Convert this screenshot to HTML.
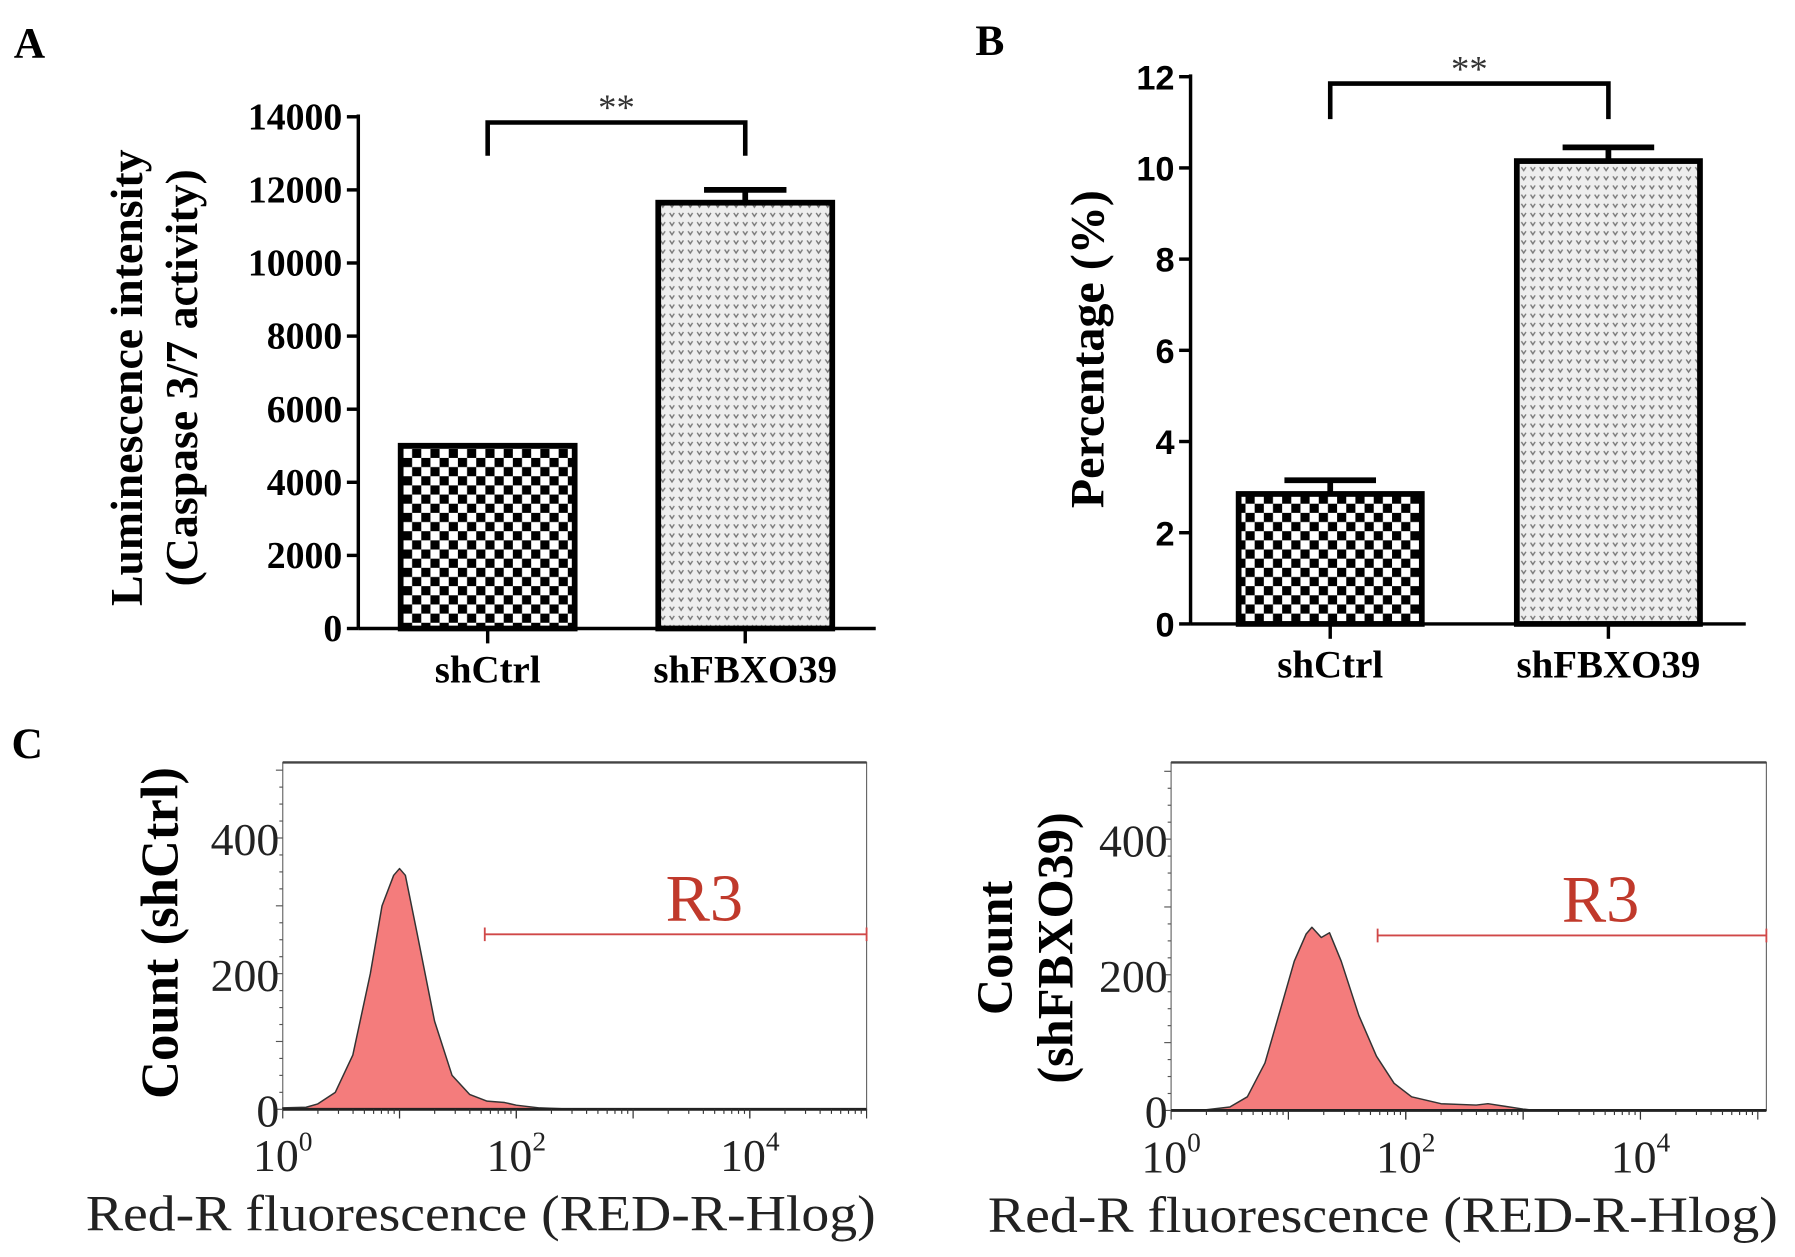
<!DOCTYPE html>
<html><head><meta charset="utf-8"><style>
html,body{margin:0;padding:0;background:#fff}
svg{display:block}
.serif{font-family:"Liberation Serif",serif}
.sans{font-family:"Liberation Sans",sans-serif}
</style></head><body>
<svg id="fig" width="1795" height="1257" viewBox="0 0 1568 1098" xmlns="http://www.w3.org/2000/svg">
<defs>
<pattern id="checker" width="16" height="16" patternUnits="userSpaceOnUse">
<rect width="16" height="16" fill="#fff"/><rect width="8" height="8" fill="#000"/><rect x="8" y="8" width="8" height="8" fill="#000"/>
</pattern>
<pattern id="dots" width="8" height="8" patternUnits="userSpaceOnUse">
<rect width="8" height="8" fill="#eee"/><path d="M1 2 L3 5 L5 2" stroke="#777" stroke-width="1.2" fill="none"/>
</pattern>
</defs>
<g id="panelA"></g>
<g id="panelB"></g>
<g id="panelC1"></g>
<g id="panelC2"></g>
<text x="12" y="50" class="serif" font-weight="bold" font-size="38">A</text>
<text x="852" y="48" class="serif" font-weight="bold" font-size="38">B</text>
<text x="10" y="662" class="serif" font-weight="bold" font-size="38">C</text>
</svg>
<script>
const NS="http://www.w3.org/2000/svg";
// Panel A data
const catsA=["shCtrl","shFBXO39"];
const valsA=[5000,11650];
const errA=[0,350];
const ticksA=[0,2000,4000,6000,8000,10000,12000,14000];
// Panel B data
const catsB=["shCtrl","shFBXO39"];
const valsB=[2.85,10.15];
const errB=[0.3,0.3];
const ticksB=[0,2,4,6,8,10,12];
// Panel C histograms: log10 fluorescence / count
const histXCtrl=[0,0.2,0.3,0.45,0.6,0.75,0.85,0.95,1.0,1.05,1.15,1.3,1.45,1.6,1.75,1.9,2.0,2.2,2.5];
const histYCtrl=[2,3,8,25,80,200,300,345,355,345,260,130,50,22,12,10,6,2,0];
const histXFb=[0.3,0.5,0.65,0.8,0.95,1.05,1.15,1.2,1.28,1.35,1.45,1.6,1.75,1.9,2.05,2.3,2.6,2.7,2.85,3.0,3.1];
const histYFb=[1,5,20,70,160,220,260,270,255,262,220,140,80,40,20,10,8,10,6,2,0];
const countTicks=[0,200,400];
const logTicks=[0,2,4];

function el(p,t,a,txt){const e=document.createElementNS(NS,t);for(const k in a)e.setAttribute(k,a[k]);if(txt!==undefined)e.textContent=txt;p.appendChild(e);return e;}

function barPanel(g,o){
  const y=v=>o.y0-(v-o.min)/(o.max-o.min)*(o.y0-o.y1);
  for(const t of o.ticks){
    const l=el(g,"line",{x1:o.ax-10,x2:o.ax,y1:y(t),y2:y(t),stroke:"#000","stroke-width":3});
    
    
    const tx=el(g,"text",{x:o.ax-14,y:y(t)+11,"text-anchor":"end","font-size":o.tfs,"font-weight":"bold",class:o.tfont},t);
    
    
  }
  const ya=el(g,"line",{x1:o.ax,x2:o.ax,y1:o.y1-2,y2:o.y0,stroke:"#000","stroke-width":3});
  
  
  const xa=el(g,"line",{x1:o.ax,x2:o.xend,y1:o.y0,y2:o.y0,stroke:"#000","stroke-width":3});
  
  
  o.cats.forEach((c,i)=>{
    const cx=o.cx[i],w=o.bw;
    const top=y(o.vals[i]);
    const b=el(g,"rect",{x:cx-w/2,y:top,width:w,height:o.y0-top,fill:i==0?"url(#checker)":"url(#dots)",stroke:"#000","stroke-width":5});
    
    
    if(o.err[i]>0){
      const et=y(o.vals[i]+o.err[i]);
      const e1=el(g,"path",{d:`M${cx} ${top} V${et} M${cx-o.cap} ${et} H${cx+o.cap}`,stroke:"#000","stroke-width":5,fill:"none"});
      
      
    }
    const tk=el(g,"line",{x1:cx,x2:cx,y1:o.y0,y2:o.y0+13,stroke:"#000","stroke-width":3});
    
    
    const lb=el(g,"text",{x:cx,y:o.y0+47,"text-anchor":"middle","font-size":34,"font-weight":"bold",class:"serif"},c);
    
    
  });
  const br=el(g,"path",{d:`M${o.cx[0]} ${o.brB} V${o.brT} H${o.cx[1]} V${o.brB}`,stroke:"#000","stroke-width":4,fill:"none"});
  
  
  const st=el(g,"text",{x:(o.cx[0]+o.cx[1])/2,y:o.brT-2,"text-anchor":"middle","font-size":32,class:"serif",fill:"#333"},"**");
  
  
}
barPanel(document.getElementById("panelA"),{cats:catsA,vals:valsA,err:errA,ticks:ticksA,min:0,max:14000,ax:313,y0:549,y1:102,xend:765,cx:[426,651],bw:152,cap:36,brT:107,brB:136,tfs:33,tfont:"serif"});
barPanel(document.getElementById("panelB"),{cats:catsB,vals:valsB,err:errB,ticks:ticksB,min:0,max:12,ax:1040,y0:545,y1:67,xend:1525,cx:[1162,1405],bw:160,cap:40,brT:73,brB:104,tfs:30,tfont:"sans"});

function yTitle(x,y,lines,fs,name){
  const g=document.getElementById("fig");
  lines.forEach((t,i)=>{
    const e=el(g,"text",{x:0,y:0,transform:`translate(${x+i*fs*1.2},${y}) rotate(-90)`,"text-anchor":"middle","font-size":fs,"font-weight":"bold",class:"serif"},t);
    
    
  });
}
yTitle(124,330,["Luminescence intensity","(Caspase 3/7 activity)"],40,"y-axis-title");
yTitle(964,305,["Percentage (%)"],42,"y-axis-title");
yTitle(155,815,["Count (shCtrl)"],46,"y-axis-title");
yTitle(884,828,["Count","(shFBXO39)"],44,"y-axis-title");

function histPanel(g,o){
  const x=v=>o.x0+v*o.dec;
  const y=v=>o.yb-v/200*o.per200;
  const box=el(g,"rect",{x:o.x0,y:o.yt,width:o.xe-o.x0,height:o.yb-o.yt,fill:"#fff",stroke:"#666","stroke-width":1});
  
  
  const tl=el(g,"line",{x1:o.x0,x2:o.xe,y1:o.yt,y2:o.yt,stroke:"#444","stroke-width":2});
  
  
  let d=`M${x(o.hx[0])} ${o.yb}`;
  o.hx.forEach((v,i)=>{d+=` L${x(v).toFixed(1)} ${y(o.hy[i]).toFixed(1)}`;});
  d+=` L${x(o.hx[o.hx.length-1])} ${o.yb} Z`;
  const h=el(g,"path",{d:d,fill:"#f47c7c",stroke:"#333","stroke-width":1.3,"stroke-linejoin":"round"});
  
  
  const xa=el(g,"line",{x1:o.x0,x2:o.xe,y1:o.yb,y2:o.yb,stroke:"#222","stroke-width":2.5});
  
  
  for(let dcd=0;dcd<5;dcd++)for(let k=1;k<=10;k++){
    const xv=x(dcd+Math.log10(k));
    const m=el(g,"line",{x1:xv,x2:xv,y1:o.yb,y2:o.yb+(k==1||k==10?8:4),stroke:"#333","stroke-width":1});
    
    
  }
  for(let c=0;c<=500;c+=25){
    const m=el(g,"line",{x1:o.x0-(c%100==0?6:3),x2:o.x0,y1:y(c),y2:y(c),stroke:"#555","stroke-width":1});
    
    
  }
  for(const t of countTicks){
    const e=el(g,"text",{x:o.x0-3,y:y(t)+15,"text-anchor":"end","font-size":40,class:"serif",fill:"#222"},t);
    
    
  }
  for(const t of logTicks){
    const e=el(g,"text",{x:x(t),y:o.yb+54,"text-anchor":"middle","font-size":40,class:"serif",fill:"#222"});
    
    
    el(e,"tspan",{},"10");
    el(e,"tspan",{dy:-18,"font-size":24},t);
  }
  const ti=el(g,"text",{x:(o.x0+o.xe)/2-perShift(o),y:o.yb+106,"text-anchor":"middle","font-size":44,class:"serif",fill:"#222",textLength:o.tl,lengthAdjust:"spacingAndGlyphs"},"Red-R fluorescence (RED-R-Hlog)");
  
  
  const gx1=x(o.gate),gx2=o.xe,gy=y(o.gateY);
  const gl=el(g,"path",{d:`M${gx1} ${gy} H${gx2} M${gx1} ${gy-6} V${gy+6} M${gx2} ${gy-6} V${gy+6}`,stroke:"#d04848","stroke-width":1.6,fill:"none"});
  
  
  const gt=el(g,"text",{x:(gx1+gx2)/2+25,y:gy-12,"text-anchor":"middle","font-size":58,class:"serif",fill:"#c0392b"},"R3");
  
  
}
function perShift(o){return o.shift;}
histPanel(document.getElementById("panelC1"),{hx:histXCtrl,hy:histYCtrl,x0:247,xe:757,dec:102,yt:666,yb:969,per200:118.5,gate:1.73,gateY:258,shift:82,tl:690});
histPanel(document.getElementById("panelC2"),{hx:histXFb,hy:histYFb,x0:1023,xe:1543,dec:102.5,yt:666,yb:970,per200:118.5,gate:1.76,gateY:258,shift:75,tl:690});
</script>
</body></html>
